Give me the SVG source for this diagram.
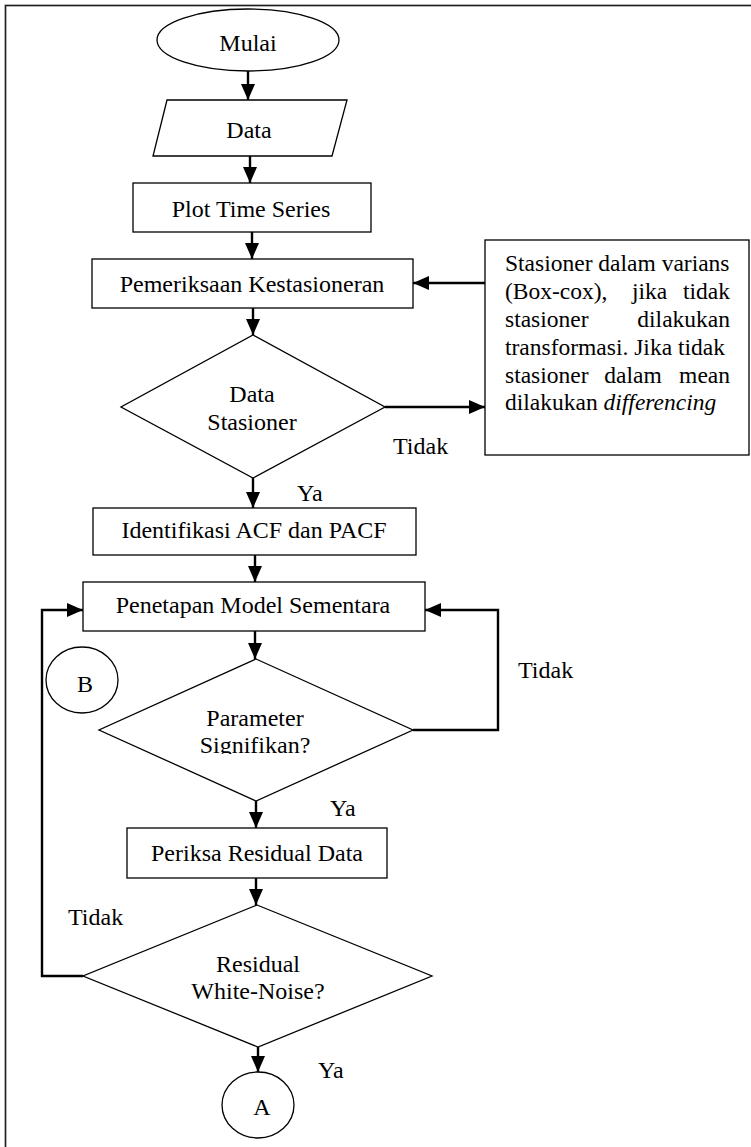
<svg xmlns="http://www.w3.org/2000/svg" width="751" height="1147" viewBox="0 0 751 1147">
<style>
.s{fill:#fff;stroke:#000;stroke-width:1.3}
.c{fill:none;stroke:#000;stroke-width:2.4}
.t{font-family:"Liberation Serif","Times New Roman",serif;font-size:24px;fill:#000}
.b{font-size:23.5px}
.m{text-anchor:middle}
</style>
<defs>
<marker id="ah" markerUnits="userSpaceOnUse" markerWidth="16" markerHeight="14" refX="16" refY="7" orient="auto">
<path d="M0,0 L16,7 L0,14 z" fill="#000"/>
</marker>
<clipPath id="clipSig"><rect x="0" y="0" width="751" height="754"/></clipPath>
</defs>
<rect x="5.5" y="5.5" width="800" height="1200" fill="none" stroke="#222" stroke-width="1.7"/>

<g id="connectors">
<line class="c" x1="248" y1="71" x2="248" y2="100" marker-end="url(#ah)"/>
<line class="c" x1="250" y1="156" x2="250" y2="183" marker-end="url(#ah)"/>
<line class="c" x1="252" y1="232" x2="252" y2="259" marker-end="url(#ah)"/>
<line class="c" x1="485" y1="283" x2="413" y2="283" marker-end="url(#ah)"/>
<line class="c" x1="253" y1="308" x2="253" y2="335" marker-end="url(#ah)"/>
<line class="c" x1="385" y1="407" x2="485" y2="407" marker-end="url(#ah)"/>
<line class="c" x1="253" y1="478" x2="253" y2="508" marker-end="url(#ah)"/>
<line class="c" x1="255" y1="555" x2="255" y2="582" marker-end="url(#ah)"/>
<line class="c" x1="255" y1="631" x2="255" y2="659" marker-end="url(#ah)"/>
<polyline class="c" points="413,730 498,730 498,610 425,610" marker-end="url(#ah)"/>
<line class="c" x1="256" y1="801" x2="256" y2="828" marker-end="url(#ah)"/>
<line class="c" x1="256" y1="878" x2="256" y2="905" marker-end="url(#ah)"/>
<polyline class="c" points="83,976 42,976 42,610 83,610" marker-end="url(#ah)"/>
<line class="c" x1="258" y1="1047" x2="258" y2="1072" marker-end="url(#ah)"/>
</g>

<g id="labels">
<text class="t" x="393" y="454">Tidak</text>
<text class="t" x="297" y="501">Ya</text>
<text class="t" x="518" y="678">Tidak</text>
<text class="t" x="330" y="816">Ya</text>
<text class="t" x="68" y="925">Tidak</text>
<text class="t" x="318" y="1078">Ya</text>
</g>

<g id="mulai">
<ellipse class="s" cx="248" cy="40" rx="91" ry="31"/>
<text class="t m" x="248" y="51">Mulai</text>
</g>
<g id="data">
<polygon class="s" points="167,100 347,100 332,156 153,156"/>
<text class="t m" x="249" y="138">Data</text>
</g>
<g id="plot">
<rect class="s" x="133" y="183" width="238" height="49"/>
<text class="t m" x="251" y="217">Plot Time Series</text>
</g>
<g id="pemeriksaan">
<rect class="s" x="92" y="259" width="321" height="49"/>
<text class="t m" x="252" y="292">Pemeriksaan Kestasioneran</text>
</g>
<g id="catatan">
<rect class="s" x="485" y="240" width="264" height="215"/>
<text class="t b" x="505" y="271">Stasioner dalam varians</text>
<text class="t b" x="505" y="299">(Box-cox),</text>
<text class="t b" x="632" y="299">jika</text>
<text class="t b" x="730" y="299" text-anchor="end">tidak</text>
<text class="t b" x="505" y="327">stasioner</text>
<text class="t b" x="730" y="327" text-anchor="end">dilakukan</text>
<text class="t b" x="505" y="355">transformasi. Jika tidak</text>
<text class="t b" x="505" y="383">stasioner</text>
<text class="t b" x="633" y="383" text-anchor="middle">dalam</text>
<text class="t b" x="730" y="383" text-anchor="end">mean</text>
<text class="t b" x="505" y="410">dilakukan <tspan font-style="italic">differencing</tspan></text>
</g>
<g id="stasioner">
<polygon class="s" points="253,335 385,407 253,478 121,407"/>
<text class="t m" x="252" y="402">Data</text>
<text class="t m" x="252" y="430">Stasioner</text>
</g>
<g id="identifikasi">
<rect class="s" x="93" y="508" width="323" height="47"/>
<text class="t m" x="254" y="538">Identifikasi ACF dan PACF</text>
</g>
<g id="penetapan">
<rect class="s" x="83" y="582" width="342" height="49"/>
<text class="t m" x="253" y="613">Penetapan Model Sementara</text>
</g>
<g id="konektorB">
<ellipse class="s" cx="82" cy="680" rx="36" ry="33"/>
<text class="t m" x="85" y="692">B</text>
</g>
<g id="parameter">
<polygon class="s" points="256,659 413,730 256,801 99,730"/>
<text class="t m" x="255" y="726">Parameter</text>
<text class="t m" x="255" y="753" clip-path="url(#clipSig)">Signifikan?</text>
</g>
<g id="periksa">
<rect class="s" x="127" y="828" width="260" height="50"/>
<text class="t m" x="257" y="861">Periksa Residual Data</text>
</g>
<g id="residual">
<polygon class="s" points="257,905 432,976 258,1047 83,976"/>
<text class="t m" x="258" y="972">Residual</text>
<text class="t m" x="258" y="999">White-Noise?</text>
</g>
<g id="konektorA">
<ellipse class="s" cx="258" cy="1105" rx="36" ry="33"/>
<text class="t m" x="262" y="1115">A</text>
</g>
</svg>
